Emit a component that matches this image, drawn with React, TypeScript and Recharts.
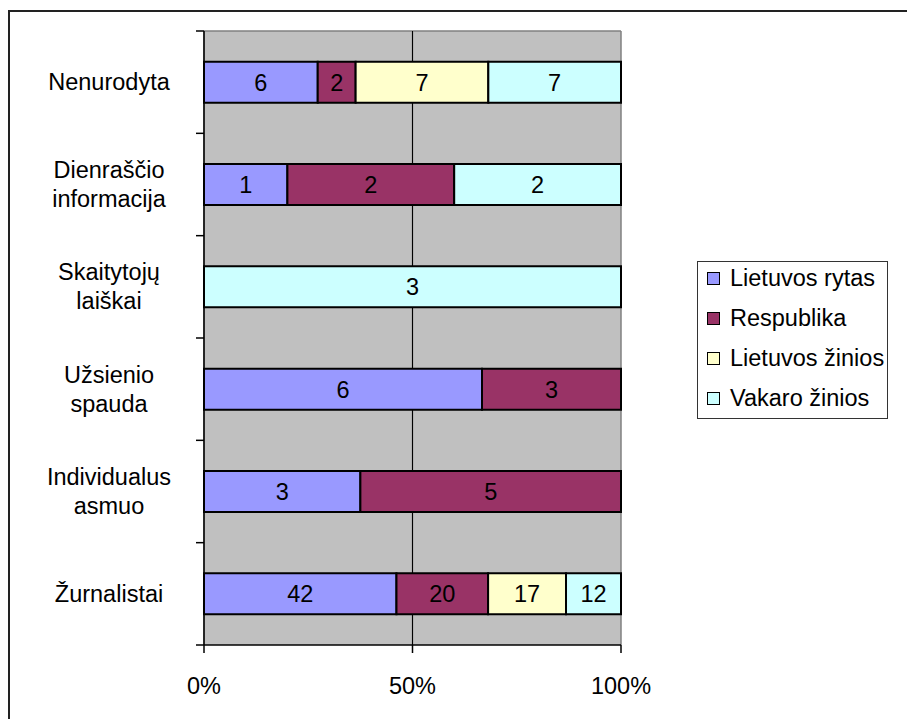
import { BarChart, Bar, XAxis, YAxis, CartesianGrid, LabelList } from 'recharts';

const categories = [
  'Nenurodyta',
  'Dienraščio informacija',
  'Skaitytojų laiškai',
  'Užsienio spauda',
  'Individualus asmuo',
  'Žurnalistai',
];

const categoryLines: string[][] = [
  ['Nenurodyta'],
  ['Dienraščio', 'informacija'],
  ['Skaitytojų', 'laiškai'],
  ['Užsienio', 'spauda'],
  ['Individualus', 'asmuo'],
  ['Žurnalistai'],
];

const lietuvosRytas = [6, 1, 0, 6, 3, 42];
const respublika = [2, 2, 0, 3, 5, 20];
const lietuvosZinios = [7, 0, 0, 0, 0, 17];
const vakaroZinios = [7, 2, 3, 0, 0, 12];

const xTicks = [0, 0.5, 1];

const SERIES = [
  { key: 'lr', name: 'Lietuvos rytas', color: '#9999FF', values: lietuvosRytas },
  { key: 'r', name: 'Respublika', color: '#993366', values: respublika },
  { key: 'lz', name: 'Lietuvos žinios', color: '#FFFFCC', values: lietuvosZinios },
  { key: 'vz', name: 'Vakaro žinios', color: '#CCFFFF', values: vakaroZinios },
];

const data = categories.map((name, i) => {
  const row: Record<string, string | number> = { name };
  SERIES.forEach((s) => {
    row[s.key] = s.values[i];
  });
  return row;
});

const FONT = '"Liberation Sans", Arial, sans-serif';
const FS = 23.5;

const CategoryTick = (props: any) => {
  const { x, y, payload, index, visibleTicksCount } = props;
  const half = payload.offset ?? 0;
  const lines = categoryLines[payload.index ?? index] ?? [String(payload.value)];
  const lh = 29;
  const startY = y - ((lines.length - 1) * lh) / 2;
  const axisX = x + 8;
  return (
    <g>
      <line x1={axisX - 8} x2={axisX} y1={y - half} y2={y - half} stroke="#000" strokeWidth={1.5} />
      {index === visibleTicksCount - 1 && (
        <line x1={axisX - 8} x2={axisX} y1={y + half} y2={y + half} stroke="#000" strokeWidth={1.5} />
      )}
      <text x={109} y={startY} textAnchor="middle" dominantBaseline="central" fontSize={FS} fontFamily={FONT} fill="#000">
        {lines.map((l, i) => (
          <tspan key={i} x={109} dy={i === 0 ? 0 : lh}>
            {l}
          </tspan>
        ))}
      </text>
    </g>
  );
};

export default function App() {
  return (
    <div style={{ position: 'absolute', left: 0, top: 0, width: 907, height: 719, fontFamily: FONT, overflow: 'hidden' }}>
      <div
        style={{
          position: 'absolute',
          left: 8,
          top: 10,
          width: 899,
          height: 709,
          borderLeft: '2px solid #222',
          borderTop: '2px solid #222',
          boxSizing: 'border-box',
        }}
      />
      <div style={{ position: 'absolute', left: 0, top: 0 }}>
        <BarChart
          width={907}
          height={719}
          data={data}
          layout="vertical"
          stackOffset="expand"
          barCategoryGap="30%"
          margin={{ top: 31, right: 286, bottom: 14, left: 8 }}
        >
          <CartesianGrid
            fill="#C0C0C0"
            stroke="#808080"
            strokeWidth={1.5}
            horizontalCoordinatesGenerator={({ offset }: any) => [offset.top]}
          />
          <CartesianGrid
            stroke="#000"
            strokeWidth={1}
            horizontal={false}
            verticalCoordinatesGenerator={({ offset }: any) => [offset.left + offset.width / 2]}
          />
          <XAxis
            type="number"
            domain={[0, 1]}
            ticks={xTicks}
            height={60}
            tickSize={8}
            tickMargin={24}
            axisLine={{ stroke: '#000', strokeWidth: 1.5 }}
            tickLine={{ stroke: '#000', strokeWidth: 1.5 }}
            tick={{ fill: '#000', fontSize: FS, fontFamily: FONT }}
            tickFormatter={(v: number) => `${Math.round(v * 100)}%`}
          />
          <YAxis
            type="category"
            dataKey="name"
            width={196}
            interval={0}
            tickLine={false}
            axisLine={{ stroke: '#000', strokeWidth: 1.5 }}
            tick={<CategoryTick />}
          />
          {SERIES.map((s) => (
            <Bar
              key={s.key}
              dataKey={s.key}
              name={s.name}
              stackId="a"
              fill={s.color}
              stroke="#000"
              strokeWidth={2}
              isAnimationActive={false}
            >
              <LabelList
                dataKey={s.key}
                position="center"
                fill="#000"
                fontSize={FS}
                fontFamily={FONT}
                formatter={(v: any) => (v ? v : '')}
              />
            </Bar>
          ))}
        </BarChart>
      </div>
      <div
        style={{
          position: 'absolute',
          left: 697,
          top: 261,
          width: 191,
          height: 158,
          border: '1.5px solid #333',
          boxSizing: 'border-box',
          background: '#fff',
        }}
      >
        <div style={{ marginTop: -4 }}>
          {SERIES.map((s) => (
            <div key={s.key} style={{ display: 'flex', alignItems: 'center', height: 40, fontSize: FS }}>
              <span
                style={{
                  display: 'inline-block',
                  width: 11,
                  height: 11,
                  marginLeft: 9,
                  marginRight: 10,
                  background: s.color,
                  border: '1.5px solid #000',
                }}
              />
              <span>{s.name}</span>
            </div>
          ))}
        </div>
      </div>
    </div>
  );
}
